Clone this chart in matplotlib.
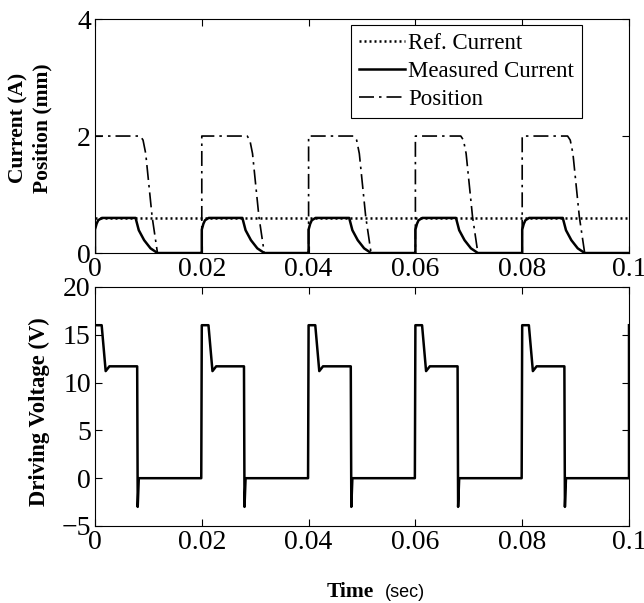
import numpy as np
import matplotlib
matplotlib.use("Agg")
import matplotlib.pyplot as plt

# one switching cycle (time offset within a 0.02 s period)
PERIOD_STARTS = [0.0, 0.02, 0.04, 0.06, 0.08]

CUR_T = [0.0, 0.0, 0.0003, 0.0006, 0.0013, 0.0076, 0.0082, 0.0092, 0.0104, 0.0117, 0.0199]
CUR_V = [0.0, 0.40, 0.50, 0.56, 0.60, 0.60, 0.39, 0.22, 0.08, 0.0, 0.0]

POS_T = [0.0, 0.0, 0.0085, 0.0090, 0.0095, 0.0107, 0.0117, 0.0199]
POS_V = [0.0, 2.0, 2.0, 1.93, 1.70, 0.62, 0.0, 0.0]

VOLT_T = [0.0, 0.00125, 0.0020, 0.0027, 0.0079, 0.0080, 0.0082, 0.0199]
VOLT_V = [16.0, 16.0, 11.2, 11.7, 11.7, -3.0, 0.0, 0.0]

REF_CURRENT = 0.6
END_T = 0.1
END_VOLT = [0.0, 16.0]

X_TICKS = [0, 0.02, 0.04, 0.06, 0.08, 0.1]
X_LABELS = ["0", "0.02", "0.04", "0.06", "0.08", "0.1"]


def repeat_cycle(ts, vs):
    t_all, v_all = [], []
    for t0 in PERIOD_STARTS:
        t_all += [t0 + t for t in ts]
        v_all += list(vs)
    return np.array(t_all), np.array(v_all)


plt.rcParams.update({
    "font.family": "Liberation Serif",
    "font.size": 16,
    "mathtext.fontset": "stix",
})

fig = plt.figure(figsize=(6.44, 6.03), dpi=100)
ax1 = fig.add_axes([0.1475, 0.5804, 0.8292, 0.388])
ax2 = fig.add_axes([0.1475, 0.1277, 0.8292, 0.3964])

t_cur, v_cur = repeat_cycle(CUR_T, CUR_V)
t_pos, v_pos = repeat_cycle(POS_T, POS_V)
t_cur = np.append(t_cur, END_T)
v_cur = np.append(v_cur, 0.0)
t_pos = np.append(t_pos, END_T)
v_pos = np.append(v_pos, 0.0)

ax1.plot([0, END_T], [REF_CURRENT, REF_CURRENT], color="black", lw=1.8,
         linestyle=(0, (0.8, 1.2)), label="Ref. Current")
ax1.plot(t_cur, v_cur, color="black", lw=1.8, label="Measured Current")
ax1.plot(t_pos, v_pos, color="black", lw=1.2,
         linestyle=(0, (9, 3, 1.5, 3)), label="Position")

ax1.set_xlim(0, 0.1)
ax1.set_ylim(0, 4)
ax1.set_yticks([0, 2, 4])
ax1.set_xticks(X_TICKS)
ax1.set_xticklabels(X_LABELS)
ax1.set_ylabel("Current (A)\nPosition (mm)", fontweight="bold", fontsize=15.5,
               linespacing=1.3)
ax1.yaxis.set_label_coords(-0.079, 0.534)
leg = ax1.legend(loc="upper right", bbox_to_anchor=(0.912, 0.975),
                 borderaxespad=0, fontsize=16.5, handlelength=2.0,
                 handletextpad=0.15, labelspacing=0.3, fancybox=False,
                 edgecolor="black", framealpha=1, borderpad=0.35)
leg.get_frame().set_linewidth(0.8)

t_v, v_v = repeat_cycle(VOLT_T, VOLT_V)
t_v = np.append(t_v, [END_T, END_T])
v_v = np.append(v_v, END_VOLT)
ax2.plot(t_v, v_v, color="black", lw=1.8)
ax2.set_xlim(0, 0.1)
ax2.set_ylim(-5, 20)
ax2.set_yticks([-5, 0, 5, 10, 15, 20])
ax2.set_xticks(X_TICKS)
ax2.set_xticklabels(X_LABELS)
ax2.set_ylabel("Driving Voltage (V)", fontweight="bold", fontsize=16.3)
ax2.yaxis.set_label_coords(-0.084, 0.478)

for ax in (ax1, ax2):
    ax.tick_params(direction="in", top=True, right=True, length=5, width=0.8,
                   labelsize=20, pad=3)
    for sp in ax.spines.values():
        sp.set_linewidth(0.8)

fig.text(0.580, 0.010, "Time", fontweight="bold", fontsize=15.5, ha="right")
fig.text(0.598, 0.010, "(sec)", family="Liberation Sans", fontsize=13, ha="left")

fig.savefig("out.png", dpi=100)
